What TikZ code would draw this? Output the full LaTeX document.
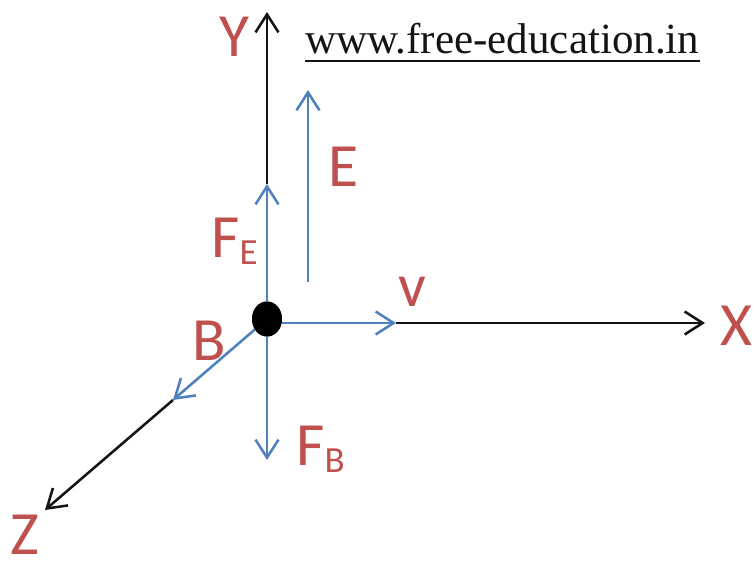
\documentclass[tikz,border=0pt]{standalone}
\usepackage{fontspec}
\setmainfont{Carlito}
\newfontfamily\sitefont{Liberation Serif}
\usetikzlibrary{arrows.meta,calc,shapes.geometric}
\definecolor{EMRed}{HTML}{C0504D}
\definecolor{EMBlue}{HTML}{4F81BD}
\definecolor{EMInk}{HTML}{141414}
\tikzset{
  axis/.style={-{Straight Barb[length=3.6mm,width=4.6mm]},EMInk,line width=1.45pt},
  vec/.style={axis,EMBlue},
  lbl/.style={text=EMRed,font=\fontsize{35}{40}\selectfont,inner sep=0pt,anchor=base west},
  site/.style={text=EMInk,font=\sitefont\fontsize{24.5}{28}\selectfont,inner sep=0pt,anchor=base west},
  charge/.style={ellipse,fill=black,minimum width=6.0mm,minimum height=7.0mm,inner sep=0pt},
}
\newcommand{\lowidx}[1]{\raisebox{-4.5pt}{\fontsize{21}{24}\selectfont#1}}

\begin{document}
\begin{tikzpicture}[x=0.02cm,y=-0.02cm]
    \useasboundingbox (0,0) rectangle (755,571);

    % the moving charge and the ends of the axes
    \node[charge] (O) at (267,319) {};
    \coordinate (ytip) at (267,12);
    \coordinate (fetip) at (267,184);
    \coordinate (vtip) at (396,323);
    \coordinate (xtip) at (705,323);
    \coordinate (btip) at (173,400);
    \coordinate (ztip) at (45,510);
    \coordinate (fbtip) at (267,460);
    \coordinate (ebase) at (308,282);
    \coordinate (etip) at (308,90);

    % axes
    \draw[axis] (fetip) -- (ytip);
    \draw[axis] (vtip) -- (xtip);
    \draw[axis] (btip) -- (ztip);

    % field and force vectors
    \draw[vec] (O) -- (fetip);
    \draw[vec] (O.center |- vtip) -- (vtip);
    \draw[vec] (O) -- (btip);
    \draw[vec] (O) -- (fbtip);
    \draw[vec] (ebase) -- (etip);
    \node[charge] at (O) {};

    % labels
    \node[lbl] (ylbl) at (219,57) {Y};
    \node[lbl] (xlbl) at (720,345) {X};
    \node[lbl] (zlbl) at (10,554) {Z};
    \node[lbl] (elbl) at (328,187) {E};
    \node[lbl] (felbl) at (211,257) {F\lowidx{E}};
    \node[lbl] (vlbl) at (398,307) {v};
    \node[lbl] (blbl) at (192,360) {B};
    \node[lbl] (fblbl) at (296,465) {F\lowidx{B}};

    \node[site] (url) at (305,54) {www.free-education.in};
    \draw[EMInk,line width=1.2pt] ($(url.base west)+(0,7)$) -- ($(url.base east)+(0,7)$);
\end{tikzpicture}
\end{document}
